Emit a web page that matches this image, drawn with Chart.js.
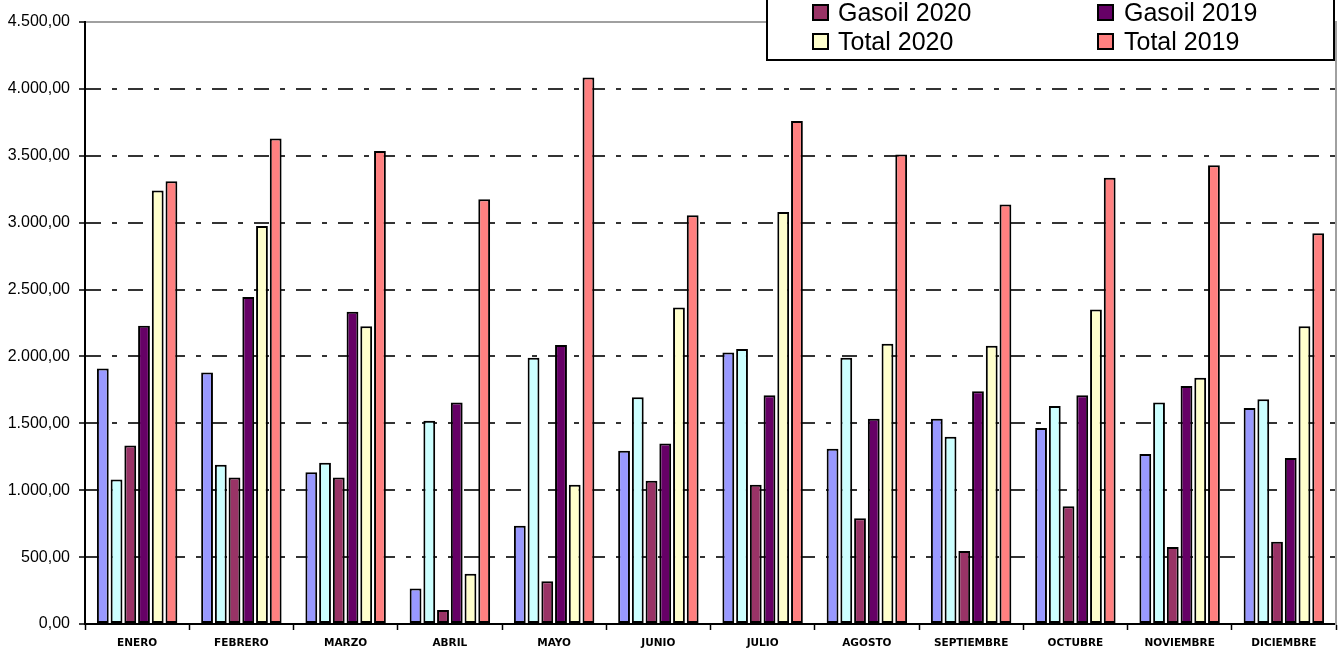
<!DOCTYPE html>
<html>
<head>
<meta charset="utf-8">
<script src="https://cdn.jsdelivr.net/npm/chart.js@4"></script>
<style>
  body { margin: 0; background: #fff; }
  #wrap { width: 1342px; height: 650px; }
</style>
</head>
<body>
<div id="wrap"><canvas id="myChart"></canvas></div>
<script>
const months = ["ENERO", "FEBRERO", "MARZO", "ABRIL", "MAYO", "JUNIO", "JULIO", "AGOSTO", "SEPTIEMBRE", "OCTUBRE", "NOVIEMBRE", "DICIEMBRE"];

const gasolina2020 = [1910, 1880, 1135, 265, 735, 1295, 2030, 1310, 1535, 1465, 1270, 1615];
const gasolina2019 = [1080, 1190, 1205, 1520, 1990, 1695, 2055, 1990, 1400, 1630, 1655, 1680];
const gasoil2020 = [1335, 1095, 1095, 105, 320, 1070, 1040, 790, 545, 880, 575, 615];
const gasoil2019 = [2230, 2445, 2335, 1655, 2085, 1350, 1710, 1535, 1740, 1710, 1780, 1240];
const total2020 = [3240, 2975, 2225, 375, 1040, 2365, 3080, 2095, 2080, 2350, 1840, 2225];
const total2019 = [3310, 3630, 3535, 3175, 4085, 3055, 3760, 3510, 3135, 3335, 3430, 2920];

const yMax = 4500;
const yStep = 500;

// 4500 -> "4.500,00"
function fmt(v) {
  return Math.round(v).toString().replace(/\B(?=(\d{3})+(?!\d))/g, ".") + ",00";
}

function bar(label, data, color) {
  return {
    label: label,
    data: data,
    backgroundColor: color,
    borderColor: "#000",
    borderWidth: 2,
    borderSkipped: false,
    barPercentage: 0.86,
    categoryPercentage: 0.79,
  };
}

// excel style legend box, partly off the top of the picture
const excelLegend = {
  id: "excelLegend",
  afterDraw(chart) {
    const ctx = chart.ctx;
    const right = chart.chartArea.right - 2;
    const left = right - 567;
    const top = -40;
    const bottom = 60;
    ctx.save();
    ctx.fillStyle = "#fff";
    ctx.fillRect(left, top, right - left, bottom - top);
    ctx.lineWidth = 2;
    ctx.strokeStyle = "#000";
    ctx.strokeRect(left, top, right - left, bottom - top);
    ctx.font = '25px "Liberation Sans", Arial, sans-serif';
    ctx.textBaseline = "alphabetic";
    chart.data.datasets.forEach((ds, i) => {
      const col = i % 2;
      const row = Math.floor(i / 2);
      const sx = left + 46 + col * 285;
      const sy = 5 + (row - 1) * 29;
      ctx.fillStyle = ds.backgroundColor;
      ctx.fillRect(sx, sy, 15, 15);
      ctx.lineWidth = 2;
      ctx.strokeStyle = "#000";
      ctx.strokeRect(sx, sy, 15, 15);
      ctx.fillStyle = "#000";
      ctx.fillText(ds.label, sx + 25 + col, sy + 15.5);
    });
    ctx.restore();
  },
};

const myChart1 = document.getElementById("myChart");

var myChart = new Chart(myChart1, {
  type: "bar",
  data: {
    labels: months,
    datasets: [
      bar("Gasolina 2020", gasolina2020, "#9999FF"),
      bar("Gasolina 2019", gasolina2019, "#CCFFFF"),
      bar("Gasoil 2020", gasoil2020, "#993366"),
      bar("Gasoil 2019", gasoil2019, "#660066"),
      bar("Total 2020", total2020, "#FFFFCC"),
      bar("Total 2019", total2019, "#FF8080"),
    ],
  },
  plugins: [excelLegend],
  options: {
    responsive: true,
    maintainAspectRatio: false,
    animation: false,
    layout: {
      padding: { left: 0, right: 6, top: 22, bottom: 0 },
    },
    plugins: {
      legend: { display: false },
      tooltip: { enabled: false },
    },
    scales: {
      x: {
        offset: true,
        grid: {
          display: true,
          offset: true,
          drawOnChartArea: false,
          tickLength: 6,
          tickColor: "#000",
          tickWidth: 1.5,
        },
        border: { color: "#000", width: 2 },
        ticks: {
          font: { family: "DejaVu Sans", size: 10.5, weight: "bold" },
          color: "#000",
          padding: 7,
          maxRotation: 0,
          autoSkip: false,
        },
        afterFit(s) {
          s.height = 26;
        },
      },
      x2: {
        type: "category",
        position: "top",
        grid: { display: false },
        ticks: { display: false },
        border: { color: "#a0a0a0", width: 2 },
        afterFit(s) {
          s.height = 0;
        },
      },
      y: {
        min: 0,
        max: yMax,
        ticks: {
          stepSize: yStep,
          callback: (v) => fmt(v),
          font: { family: "Liberation Sans", size: 16 },
          color: "#000",
          padding: 9,
        },
        grid: {
          // top and bottom lines come from the frame and the x axis
          color: (c) => (c.tick && (c.tick.value === 0 || c.tick.value === yMax) ? "rgba(0,0,0,0)" : "#333"),
          lineWidth: 2,
          tickColor: "#000",
          tickLength: 6,
          tickWidth: 1.5,
        },
        border: { color: "#000", width: 2, dash: [15, 11, 5, 11] },
        afterFit(s) {
          s.width = 85;
        },
      },
      y2: {
        type: "linear",
        position: "right",
        grid: { display: false },
        ticks: { display: false },
        border: { color: "#a0a0a0", width: 2 },
        afterFit(s) {
          s.width = 0;
        },
      },
    },
  },
});
</script>
</body>
</html>
